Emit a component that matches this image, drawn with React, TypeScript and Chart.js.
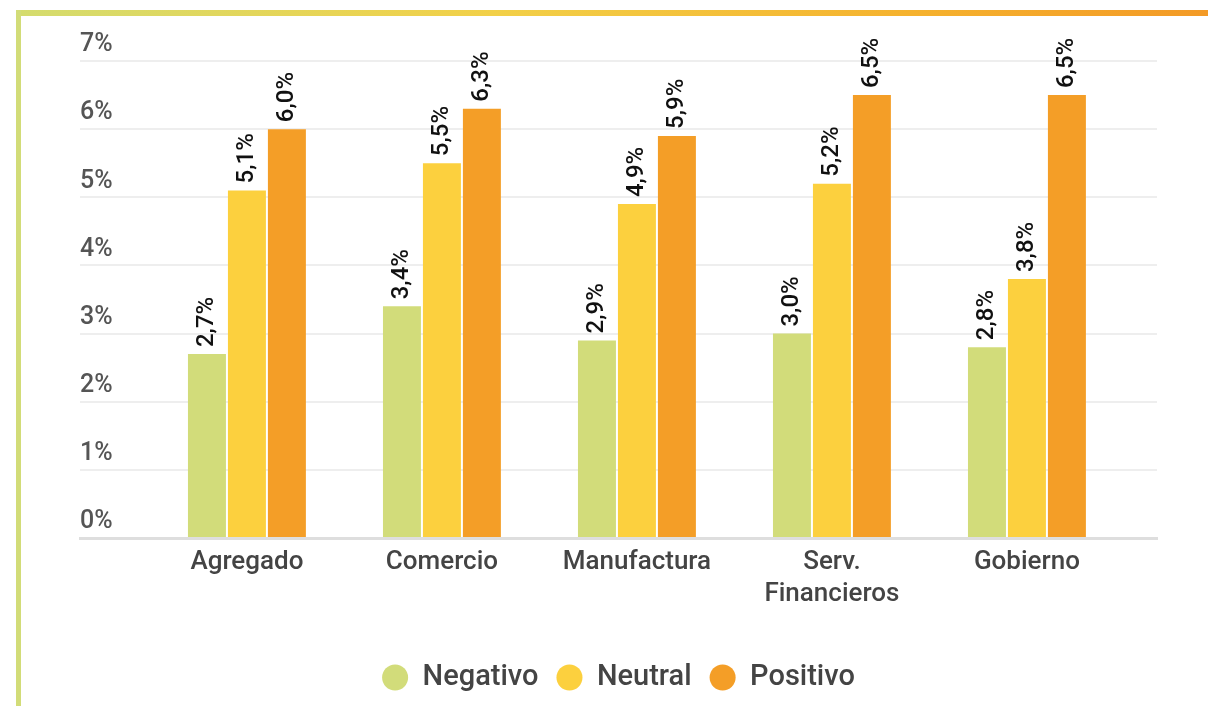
import React, { useEffect, useRef } from "react";
import { Chart, registerables } from "chart.js";

Chart.register(...registerables);

const categories: (string | string[])[] = ["Agregado", "Comercio", "Manufactura", ["Serv.", "Financieros"], "Gobierno"];
const negativo = [2.7, 3.4, 2.9, 3.0, 2.8];
const neutral = [5.1, 5.5, 4.9, 5.2, 3.8];
const positivo = [6.0, 6.3, 5.9, 6.5, 6.5];
const seriesNames = ["Negativo", "Neutral", "Positivo"];
const seriesColors = ["#d2dc7a", "#fcd03e", "#f49e27"];
const yTicks = [0, 1, 2, 3, 4, 5, 6, 7];

const FONT = "Roboto, 'Noto Sans', sans-serif";

const valueLabels = {
  id: "valueLabels",
  afterDatasetsDraw(chart: any) {
    const ctx = chart.ctx;
    chart.data.datasets.forEach((ds: any, di: number) => {
      const meta = chart.getDatasetMeta(di);
      meta.data.forEach((el: any, i: number) => {
        const v = ds.data[i].y as number;
        const txt = v.toFixed(1).replace(".", ",") + "%";
        ctx.save();
        ctx.translate(el.x, el.y - 7);
        ctx.rotate(-Math.PI / 2);
        ctx.font = `500 24px ${FONT}`;
        ctx.fillStyle = "#111111";
        ctx.textAlign = "left";
        ctx.textBaseline = "middle";
        ctx.fillText(txt, 0, 0);
        ctx.restore();
      });
    });
  },
};

export default function App() {
  const ref = useRef<HTMLCanvasElement>(null);
  useEffect(() => {
    const seriesValues = [negativo, neutral, positivo];
    const chart = new Chart(ref.current!, {
      type: "bar",
      data: {
        datasets: seriesNames.map((name, s) => ({
          label: name,
          data: seriesValues[s].map((v, i) => ({ x: i, y: v })),
          backgroundColor: seriesColors[s],
          borderWidth: 0,
          barPercentage: 0.95,
          categoryPercentage: 0.615,
        })),
      },
      options: {
        animation: false,
        responsive: false,
        maintainAspectRatio: false,
        layout: { padding: { left: 80, right: 51, top: 61, bottom: 4 } },
        scales: {
          x: {
            type: "linear",
            offset: false,
            min: -0.856,
            max: 4.667,
            afterBuildTicks: (scale: any) => {
              scale.ticks = categories.map((_, i) => ({ value: i }));
            },
            afterFit: (scale: any) => {
              scale.height += 27;
            },
            ticks: {
              autoSkip: false,
              maxRotation: 0,
              callback: (v: any) => categories[v as number],
              font: { family: FONT, size: 26, weight: "500", lineHeight: 1.23 },
              color: "#444444",
              padding: 8,
            },
            grid: { display: false, drawTicks: false, offset: false },
            border: { display: true, color: "#dedede", width: 3 },
          },
          y: {
            min: 0,
            max: 7,
            afterBuildTicks: (scale: any) => {
              scale.ticks = yTicks.map((v) => ({ value: v }));
            },
            ticks: {
              mirror: true,
              padding: 0,
              labelOffset: -16,
              callback: (v: any) => v + "%",
              font: { family: FONT, size: 25, weight: "500" },
              color: "#555555",
            },
            grid: { color: "#eeeeee", lineWidth: 2, drawTicks: false },
            border: { display: false },
          },
        },
        plugins: {
          legend: {
            position: "bottom",
            labels: {
              usePointStyle: true,
              pointStyle: "circle",
              boxWidth: 26,
              boxHeight: 18.4,
              padding: 18,
              font: { family: FONT, size: 29, weight: "500" },
              color: "#444444",
            },
          },
          tooltip: { enabled: false },
        },
      },
      plugins: [valueLabels],
    } as any);
    return () => chart.destroy();
  }, []);

  return (
    <div style={{ position: "absolute", left: 0, top: 0, width: 1208, height: 706, background: "#ffffff", overflow: "hidden" }}>
      <div
        style={{
          position: "absolute",
          left: 16,
          top: 10,
          width: 1192,
          height: 6,
          background: "linear-gradient(to right, #d4dc6e 0%, #f2d048 40%, #f5b22e 75%, #f39a26 100%)",
        }}
      />
      <div style={{ position: "absolute", left: 16, top: 10, width: 5, height: 696, background: "#d2dc78" }} />
      <canvas ref={ref} width={1208} height={706} style={{ position: "absolute", left: 0, top: 0 }} />
    </div>
  );
}
